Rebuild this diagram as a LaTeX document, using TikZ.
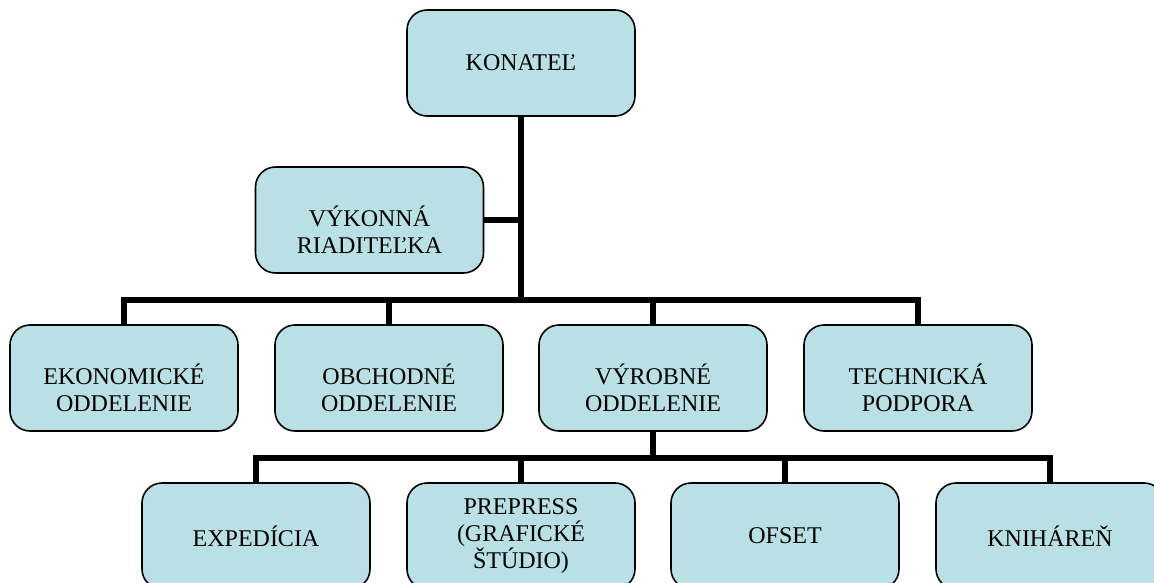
\documentclass[tikz,border=0pt]{standalone}
\usepackage{fontspec}
\setmainfont{Liberation Serif}
\usepackage{tikz}
\definecolor{orgfill}{RGB}{185,224,228}
\newcommand{\orgstrut}{\rule{0pt}{40pt}}

\begin{document}
\begin{tikzpicture}[x=1pt, y=-1pt,
  orgbox/.style={draw=black, fill=orgfill, line width=1.6pt, rounded corners=20pt,
    minimum width=228pt, minimum height=106pt, align=center, inner sep=0pt,
    font=\fontsize{24}{27}\selectfont},
  orgline/.style={draw=black, line width=6pt}]
\useasboundingbox (0,0) rectangle (1154,583);
\clip (0,0) rectangle (1154,583);
\node[orgbox] (Org chartNkonatel) at (521,63) {KONATEĽ};
\node[orgbox] (Org chartNvykonna) at (369.5,220) {\orgstrut VÝKONNÁ\\RIADITEĽKA};
\node[orgbox] (Org chartNekonomicke) at (124,378) {\orgstrut EKONOMICKÉ\\ODDELENIE};
\node[orgbox] (Org chartNobchodne) at (389,378) {\orgstrut OBCHODNÉ\\ODDELENIE};
\node[orgbox] (Org chartNvyrobne) at (653,378) {\orgstrut VÝROBNÉ\\ODDELENIE};
\node[orgbox] (Org chartNtechnicka) at (918,378) {\orgstrut TECHNICKÁ\\PODPORA};
\node[orgbox] (Org chartNexpedicia) at (256,536) {EXPEDÍCIA};
\node[orgbox] (Org chartNprepress) at (521,536) {PREPRESS\\(GRAFICKÉ\\ŠTÚDIO)};
\node[orgbox] (Org chartNofset) at (785,536) {OFSET};
\node[orgbox] (Org chartNknihharen) at (1050,536) {KNIHÁREŇ};
\coordinate (Org chartNhubA) at (521,300);
\coordinate (Org chartNhubB) at (653,458);
\draw[orgline] (Org chartNkonatel.south) -- (Org chartNhubA);
\draw[orgline] (Org chartNvykonna.east) -- (Org chartNvykonna.east -| Org chartNhubA);
\draw[orgline] (Org chartNekonomicke.north) |- (Org chartNhubA);
\draw[orgline] (Org chartNtechnicka.north) |- (Org chartNhubA);
\draw[orgline] (Org chartNobchodne.north) -- (Org chartNobchodne.north |- Org chartNhubA);
\draw[orgline] (Org chartNvyrobne.north) -- (Org chartNvyrobne.north |- Org chartNhubA);
\draw[orgline] (Org chartNvyrobne.south) -- (Org chartNhubB);
\draw[orgline] (Org chartNexpedicia.north) |- (Org chartNhubB);
\draw[orgline] (Org chartNknihharen.north) |- (Org chartNhubB);
\draw[orgline] (Org chartNprepress.north) -- (Org chartNprepress.north |- Org chartNhubB);
\draw[orgline] (Org chartNofset.north) -- (Org chartNofset.north |- Org chartNhubB);
\end{tikzpicture}
\end{document}
